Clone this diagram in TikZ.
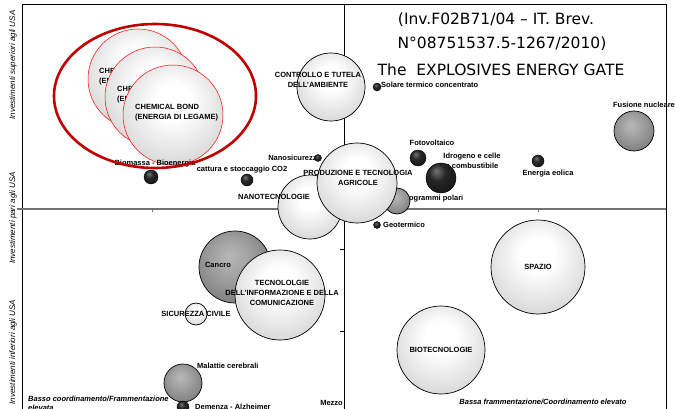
\documentclass[tikz,border=0pt]{standalone}
\usepackage{fontspec}
\setmainfont{Liberation Sans}
\newfontfamily\titlefont{DejaVu Sans}

\definecolor{gatered}{RGB}{192,0,0}
\pgfdeclareradialshading{lightball}{\pgfpoint{0bp}{8bp}}{color(0bp)=(white);color(9bp)=(white);color(32bp)=(black!17);color(50bp)=(black!40);color(58bp)=(black!55)}
\pgfdeclareradialshading{greyball}{\pgfpoint{-4bp}{8bp}}{color(0bp)=(black!28);color(12bp)=(black!36);color(58bp)=(black!72)}
\pgfdeclareradialshading{blackball}{\pgfpoint{-8bp}{12bp}}{color(0bp)=(black!55);color(14bp)=(black!85);color(58bp)=(black)}

\tikzset{
  sphere/.style={circle, draw=black, line width=0.7pt, inner sep=0pt, minimum size=2*#1pt, shading=lightball},
  greysphere/.style={sphere=#1, shading=greyball},
  blackdot/.style={sphere=#1, shading=blackball, line width=0.4pt},
  chemsphere/.style={sphere=#1, draw=red, line width=0.5pt},
  lab/.style={font=\fontsize{7.5}{10}\selectfont\bfseries, inner sep=0pt, align=center},
  axlab/.style={font=\fontsize{8}{9}\selectfont\itshape, inner sep=0pt, rotate=90},
  titlelab/.style={font=\titlefont\fontsize{15.5}{17}\selectfont, inner sep=0pt}
}

\begin{document}
\begin{tikzpicture}[x=1pt,y=-1pt]
    \useasboundingbox (0,0) rectangle (675,409);
    \clip (0,0) rectangle (675,409);
    \fill[white] (0,0) rectangle (675,409);

    \draw[line width=0.7pt] (22,420) -- (22,4) -- (666,4) -- (666,420);
    \draw[black!55,line width=1.3pt] (17,209) -- (666,209);
    \draw[line width=0.7pt] (344,4) -- (344,420);
    \draw[black!55] (152,209) -- (152,212);
    \draw[black!55] (538,209) -- (538,212);
    \draw (340,249) -- (344,249);
    \draw (340,331) -- (344,331);

    \node[axlab] (supusa) at (13,65) {Investimenti superiori agli USA};
    \node[axlab] (pariusa) at (13,218) {Investimenti pari agli USA};
    \node[axlab] (infusa) at (13,352) {Investimenti inferiori agli USA};

    \node[titlelab] (title1) at (496,20) {(Inv.F02B71/04 – IT. Brev.};
    \node[titlelab] (title2) at (502,44) {N°08751537.5-1267/2010)};
    \node[titlelab] (title3) at (501,70) {The\ \ EXPLOSIVES ENERGY GATE};

    \node[chemsphere=50] (chem1) at (138,79) {};
    \node[lab,anchor=west,align=left] at (99,77) {CHEMICAL BOND\\(ENERGIA DI LEGAME)};
    \node[chemsphere=50] (chem2) at (155,97) {};
    \node[lab,anchor=west,align=left] at (117,95) {CHEMICAL BOND\\(ENERGIA DI LEGAME)};
    \node[chemsphere=50] (chem3) at (173,115) {};
    \node[lab,anchor=west,align=left] (chemlab) at (135,113) {CHEMICAL BOND\\(ENERGIA DI LEGAME)};

    \node[lab] (biomassalab) at (155,164) {Biomassa - Bioenergia};
    \node[blackdot=7] (biomassa) at (151,177) {};
    \draw[gatered,line width=2.6pt] (155,96) ellipse [x radius=101pt, y radius=72pt];

    \node[sphere=34] (ambiente) at (331,87) {};
    \node[lab] (ambientelab) at (318,80) {CONTROLLO E TUTELA\\DELL'AMBIENTE};

    \node[blackdot=4] (solare) at (377,87) {};
    \node[lab,anchor=west] (solarelab) at (381,85) {Solare termico concentrato};

    \node[greysphere=20] (fusione) at (634,131) {};
    \node[lab] (fusionelab) at (644,105) {Fusione nucleare};

    \node[blackdot=8] (foto) at (418,158) {};
    \node[lab] (fotolab) at (432,143) {Fotovoltaico};

    \node[lab] (idrolab) at (472,161) {Idrogeno e celle\\a combustibile};
    \node[blackdot=15] (idro) at (441,178) {};

    \node[blackdot=6] (eolica) at (538,161) {};
    \node[lab] (eolicalab) at (548,174) {Energia eolica};

    \node[lab,anchor=west] (polarilab) at (401,199) {Programmi polari};
    \node[greysphere=13] (polari) at (397,201) {};

    \node[lab,anchor=east] (nanosiclab) at (321,158) {Nanosicurezza};
    \node[blackdot=3.5] (nanosic) at (318,158) {};

    \node[blackdot=6] (cattura) at (247,180) {};
    \node[lab] (catturalab) at (242,170) {cattura e stoccaggio CO2};

    \node[sphere=32] (nano) at (310,207) {};
    \node[lab] (nanolab) at (274,197) {NANOTECNOLOGIE};

    \node[sphere=40] (agricole) at (357,183) {};
    \node[lab] (agricolelab) at (358,178) {PRODUZIONE E TECNOLOGIA\\AGRICOLE};

    \node[blackdot=3.5] (geo) at (377,225) {};
    \node[lab,anchor=west] (geolab) at (383,225) {Geotermico};

    \node[greysphere=36] (cancro) at (235,267) {};
    \node[lab] (cancrolab) at (218,265) {Cancro};

    \node[sphere=45] (tic) at (280,295) {};
    \node[lab] (ticlab) at (282,293) {TECNOLOLGIE\\DELL'INFORMAZIONE E DELLA\\COMUNICAZIONE};

    \node[sphere=11] (sicurezza) at (196,314) {};
    \node[lab] (sicurezzalab) at (196,314) {SICUREZZA CIVILE};

    \node[greysphere=19] (malattie) at (183,383) {};
    \node[lab,anchor=west] (malattielab) at (197,366) {Malattie cerebrali};

    \node[blackdot=6] (demenza) at (183,407) {};
    \node[lab,anchor=west] (demenzalab) at (195,407) {Demenza - Alzheimer};

    \node[sphere=47] (spazio) at (538,267) {};
    \node[lab] (spaziolab) at (538,267) {SPAZIO};

    \node[sphere=44] (biotec) at (441,350) {};
    \node[lab] (biotelab) at (441,350) {BIOTECNOLOGIE};

    \node[lab,font=\fontsize{7.5}{9}\selectfont\bfseries\itshape,anchor=west,align=left] (basso) at (28,403) {Basso coordinamento/Frammentazione\\elevata};
    \node[lab,anchor=east] (mezzo) at (343,403) {Mezzo};
    \node[lab,font=\fontsize{7.5}{9}\selectfont\bfseries\itshape] (bassa) at (543,402) {Bassa frammentazione/Coordinamento elevato};
\end{tikzpicture}
\end{document}
